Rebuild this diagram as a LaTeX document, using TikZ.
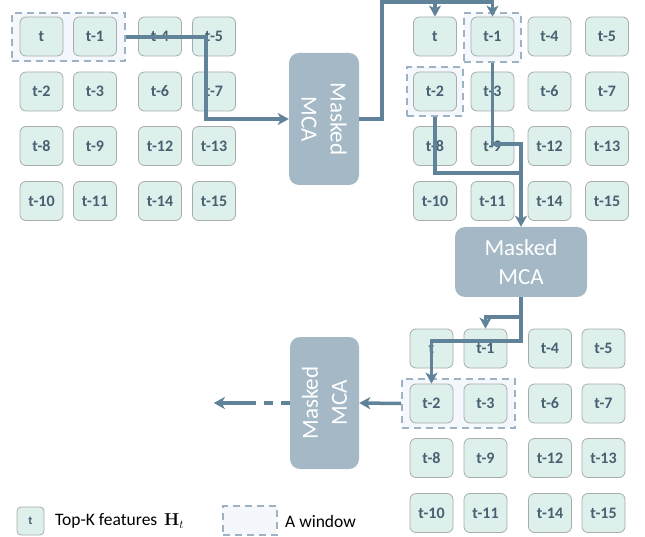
\documentclass[tikz,border=0pt]{standalone}
\usepackage[no-math]{fontspec}
\setmainfont{Carlito}
\usetikzlibrary{arrows.meta,calc}
\definecolor{cellfill}{RGB}{221,240,236}
\definecolor{celldraw}{RGB}{168,172,172}
\definecolor{celltext}{RGB}{72,96,114}
\definecolor{arrowc}{RGB}{96,131,153}
\definecolor{mcafill}{RGB}{164,184,198}
\definecolor{windraw}{RGB}{158,178,196}
\definecolor{winfill}{RGB}{244,248,252}
\begin{document}
\begin{tikzpicture}[x=1pt,y=-1pt,
  cellbox/.style={draw=celldraw, line width=0.8pt, fill=cellfill, rounded corners=6pt,
    minimum width=43pt, minimum height=39pt, inner sep=0pt,
    font=\fontsize{16}{19}\selectfont\bfseries, text=celltext},
  winbox/.style={draw=windraw, fill=winfill, line width=1.8pt, dash pattern=on 7pt off 5pt, inner sep=0pt},
  mcabox/.style={fill=mcafill, rounded corners=10pt, inner sep=0pt},
  mcatext/.style={text=white, font=\fontsize{23}{29}\selectfont, align=center, inner sep=0pt},
  flow/.style={draw=arrowc, line width=3.5pt},
  tip/.style={-{Stealth[length=11pt,width=12pt,inset=3pt]}}
]
\useasboundingbox (0,0) rectangle (645,537);

% windows
\node[winbox, minimum width=113pt, minimum height=48pt] (w1) at (68.5,37) {};
\node[winbox, minimum width=57pt, minimum height=49pt] (w2a) at (492.5,37.5) {};
\node[winbox, minimum width=56pt, minimum height=49pt] (w2b) at (435,91.5) {};
\node[winbox, minimum width=113pt, minimum height=49pt] (w3) at (458.5,403.5) {};
\node[winbox, minimum width=54pt, minimum height=29pt] (lw) at (250,520.5) {};

% grid 1
\foreach \y/\r/\la/\lb/\lc/\ld in {36.5/1/t/t-1/t-4/t-5, 91.5/2/t-2/t-3/t-6/t-7, 146/3/t-8/t-9/t-12/t-13, 201/4/t-10/t-11/t-14/t-15}{
  \node[cellbox] (a\r1) at (41.5,\y) {\la};
  \node[cellbox] (a\r2) at (95,\y) {\lb};
  \node[cellbox] (a\r3) at (160,\y) {\lc};
  \node[cellbox] (a\r4) at (214,\y) {\ld};
}
% grid 2
\foreach \y/\r/\la/\lb/\lc/\ld in {36.5/1/t/t-1/t-4/t-5, 91.5/2/t-2/t-3/t-6/t-7, 146/3/t-8/t-9/t-12/t-13, 201/4/t-10/t-11/t-14/t-15}{
  \node[cellbox] (b\r1) at (435,\y) {\la};
  \node[cellbox] (b\r2) at (492.5,\y) {\lb};
  \node[cellbox] (b\r3) at (549.5,\y) {\lc};
  \node[cellbox] (b\r4) at (607,\y) {\ld};
}
% grid 3
\foreach \y/\r/\la/\lb/\lc/\ld in {348.5/1/t/t-1/t-4/t-5, 403.5/2/t-2/t-3/t-6/t-7, 458/3/t-8/t-9/t-12/t-13, 513/4/t-10/t-11/t-14/t-15}{
  \node[cellbox] (c\r1) at (431.5,\y) {\la};
  \node[cellbox] (c\r2) at (485.5,\y) {\lb};
  \node[cellbox] (c\r3) at (550,\y) {\lc};
  \node[cellbox] (c\r4) at (603.5,\y) {\ld};
}

% MCA boxes
\node[mcabox, minimum width=70pt, minimum height=132pt] (box1) at (324,119) {};
\node[mcatext, rotate=-90] (box1t) at (box1) {Masked\\MCA};
\node[mcabox, minimum width=132pt, minimum height=70pt] (box2) at (521,262) {};
\node[mcatext] (box2t) at (box2) {Masked\\MCA};
\node[mcabox, minimum width=69pt, minimum height=132pt] (box3) at (324.5,403) {};
\node[mcatext, rotate=90] (box3t) at (box3) {Masked\\MCA};

% junction coordinates
\coordinate (k1) at (206,119);
\coordinate (k2) at (382,2);
\coordinate (j1) at (b11.north |- 0,2);
\coordinate (j2) at (box2.north |- 0,144);
\coordinate (j3) at (box2.north |- 0,173);
\coordinate (j4) at (box2.south |- 0,341);
\coordinate (j5) at (box2.south |- 0,317);
\coordinate (d1) at ($(box3.west)+(-36,0)$);
\coordinate (d2) at ($(box3.west)+(-76,0)$);

% connectors
\draw[flow,tip] (w1.east) -| (k1) -- (box1.west);
\draw[flow,tip] (box1.east) -| (k2) -| (b12.north);
\draw[flow,tip] (j1) -- (b11.north);
\draw[flow,tip] (w2a.south) |- (j2) -- (box2.north);
\draw[flow] (w2b.south) |- (j3);
\draw[flow,tip] (box2.south) -- (j4) -| (c21.north);
\draw[flow,tip] (j5) -| (c12.north);
\draw[flow,tip] (w3.west) -- (box3.east);
\draw[flow, dash pattern=on 9pt off 8pt] (box3.west) -- (d1);
\draw[flow,tip] (d1) -- (d2);

% legend
\node[cellbox, minimum width=27pt, minimum height=28pt, rounded corners=4pt,
  font=\fontsize{12}{14}\selectfont\bfseries] (lg) at (30.5,521) {t};
\node[anchor=west, inner sep=0pt, font=\fontsize{17.5}{20}\selectfont] (lgt) at (55,521) {Top-K features \,$\mathbf{H}_t$};
\node[anchor=west, inner sep=0pt, font=\fontsize{17.5}{20}\selectfont] (lwt) at (285,521) {A window};
\end{tikzpicture}
\end{document}
